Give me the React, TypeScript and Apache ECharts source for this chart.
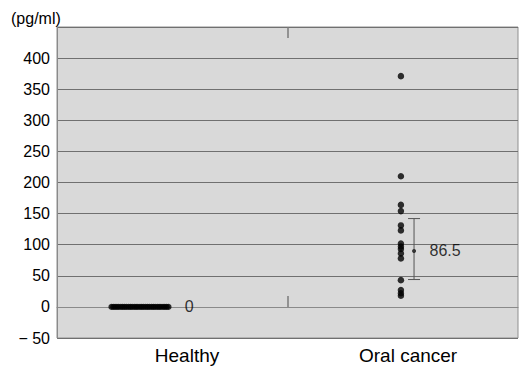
import React, { useEffect, useRef } from "react";
import * as echarts from "echarts";

// ---- data ----
const categories = ["Healthy", "Oral cancer"];
const yTickLabels = ["− 50", "0", "50", "100", "150", "200", "250", "300", "350", "400"];
const healthyJitterX = [0.236, 0.244, 0.252, 0.26, 0.268, 0.277, 0.285, 0.293, 0.301, 0.31, 0.318, 0.326, 0.335, 0.343, 0.351, 0.36, 0.368, 0.376, 0.385, 0.393, 0.401, 0.41, 0.418, 0.426, 0.435, 0.443, 0.451, 0.46, 0.468, 0.476, 0.484];
const healthyValues = [0, 0, 0, 0, 0, 0, 0, 0, 0, 0, 0, 0, 0, 0, 0, 0, 0, 0, 0, 0, 0, 0, 0, 0, 0, 0, 0, 0, 0, 0, 0];
const cancerValues = [371, 210, 164, 154, 131, 123, 102, 97, 93, 86, 78, 43, 27, 22, 18];
const meanLabels = ["0", "86.5"];
const meanMarkers = [0, 90];
const errLow = [0, 44];
const errHigh = [0, 142];

// ---- positions on the x value axis (0..2) ----
const cancerColumnX = 1.492;
const meanX = [0.5, 1.549];
const categoryLabelX = [0.564, 1.523];

const FONT = "'Liberation Sans', Arial, Helvetica, sans-serif";

export default function App() {
  const ref = useRef<HTMLDivElement>(null);
  useEffect(() => {
    if (!ref.current) return;
    const chart = echarts.init(ref.current, null, { renderer: "svg" });
    const healthyData = healthyValues.map((v, i) => [healthyJitterX[i], v]);
    const cancerData = cancerValues.map((v) => [cancerColumnX, v]);
    const errData = meanMarkers.map((m, i) => [meanX[i], errLow[i], errHigh[i], m]);
    const meanData = meanMarkers.map((m, i) => ({
      value: [meanX[i], m],
      label: { formatter: meanLabels[i], distance: i === 0 ? 12 : 15 },
    }));

    chart.setOption({
      animation: false,
      backgroundColor: "#ffffff",
      textStyle: { fontFamily: FONT },
      grid: {
        left: 57,
        right: 1,
        top: 27,
        bottom: 36,
        show: true,
        backgroundColor: "#d9d9d9",
        borderColor: "#8f8f8f",
        borderWidth: 1,
      },
      graphic: [
        {
          type: "text",
          left: 11,
          top: 10,
          style: { text: "(pg/ml)", fontSize: 16, fill: "#000", fontFamily: FONT },
        },
      ],
      xAxis: [
        {
          type: "value",
          min: 0,
          max: 2,
          position: "bottom",
          splitLine: { show: false },
          axisLine: { show: true, lineStyle: { color: "#8a8a8a" } },
          axisTick: {
            show: true,
            inside: true,
            length: 11,
            customValues: [1],
            lineStyle: { color: "#7a7a7a", width: 1.5 },
          },
          axisLabel: {
            show: true,
            customValues: categoryLabelX,
            formatter: (v: number) => (v < 1 ? categories[0] : categories[1]),
            fontSize: 19,
            color: "#000",
            margin: 8,
            fontFamily: FONT,
          },
        },
        {
          type: "value",
          min: 0,
          max: 2,
          position: "top",
          splitLine: { show: false },
          axisLine: { show: false },
          axisTick: {
            show: true,
            inside: true,
            length: 11,
            customValues: [1],
            lineStyle: { color: "#7a7a7a", width: 1.5 },
          },
          axisLabel: { show: false },
        },
      ],
      yAxis: {
        type: "value",
        min: -50,
        max: 450,
        interval: 50,
        axisLine: { show: true, lineStyle: { color: "#8a8a8a" } },
        axisTick: { show: false },
        splitLine: { show: true, lineStyle: { color: "#707070", width: 1 } },
        axisLabel: {
          fontSize: 16,
          color: "#000",
          margin: 7,
          fontFamily: FONT,
          formatter: (v: number) => {
            const idx = Math.round((v + 50) / 50);
            return idx >= 0 && idx < yTickLabels.length ? yTickLabels[idx] : "";
          },
        },
      },
      series: [
        {
          type: "custom",
          xAxisIndex: 0,
          data: errData,
          z: 3,
          renderItem: (params: any, api: any) => {
            const x = api.value(0);
            const lo = api.value(1);
            const hi = api.value(2);
            const m = api.value(3);
            const pLo = api.coord([x, lo]);
            const pHi = api.coord([x, hi]);
            const pM = api.coord([x, m]);
            const children: any[] = [];
            if (hi > lo) {
              const st = { stroke: "#555", lineWidth: 1 };
              children.push({ type: "line", shape: { x1: pLo[0], y1: pLo[1], x2: pHi[0], y2: pHi[1] }, style: st });
              children.push({ type: "line", shape: { x1: pLo[0] - 6, y1: pLo[1], x2: pLo[0] + 6, y2: pLo[1] }, style: st });
              children.push({ type: "line", shape: { x1: pHi[0] - 6, y1: pHi[1], x2: pHi[0] + 6, y2: pHi[1] }, style: st });
              children.push({ type: "circle", shape: { cx: pM[0], cy: pM[1], r: 2 }, style: { fill: "#333" } });
            }
            return { type: "group", children };
          },
        },
        {
          type: "scatter",
          data: healthyData,
          symbol: "circle",
          symbolSize: 6,
          itemStyle: { color: "#000" },
          z: 4,
        },
        {
          type: "scatter",
          data: cancerData,
          symbol: "circle",
          symbolSize: 6.5,
          itemStyle: { color: "#000" },
          z: 4,
        },
        {
          type: "scatter",
          data: meanData,
          symbolSize: 1,
          itemStyle: { color: "rgba(0,0,0,0)" },
          z: 5,
          label: {
            show: true,
            position: "right",
            fontSize: 16,
            color: "#000",
            fontFamily: FONT,
          },
        },
      ],
    });
    return () => chart.dispose();
  }, []);
  return <div ref={ref} style={{ position: "absolute", left: 0, top: 0, width: 519, height: 374 }} />;
}
